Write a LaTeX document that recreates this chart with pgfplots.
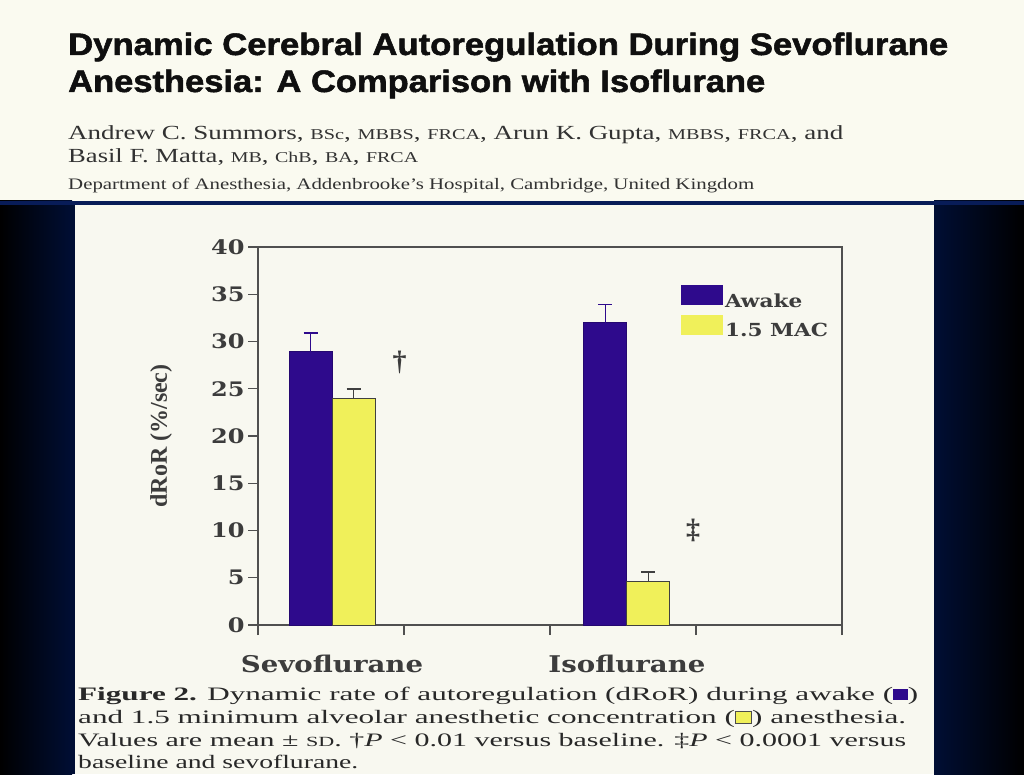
\documentclass[border=0pt]{standalone}
\usepackage{pgfplots}
\pgfplotsset{compat=1.18}
\usepackage{fontspec}
\usepackage{graphicx}
\setmainfont{Liberation Serif}
\newfontfamily\titlefont[BoldFeatures={FakeBold=1.6}]{Liberation Sans}
\newfontfamily\chartfont[FakeStretch=1.2]{DejaVu Serif}
\definecolor{cream}{RGB}{250,250,240}
\definecolor{panel}{RGB}{248,248,240}
\definecolor{navy}{RGB}{0,14,52}
\definecolor{stripe}{RGB}{8,28,88}
\definecolor{awake}{RGB}{46,10,140}
\definecolor{macy}{RGB}{240,240,90}
\definecolor{axisgray}{RGB}{80,80,80}
\definecolor{txt}{RGB}{60,60,60}
\newcommand\smc[1]{{\fontsize{15}{15}\selectfont #1}}
\newcommand\awakebox{\textcolor{awake}{\rule{9pt}{11pt}}}
\newcommand\macbox{{\setlength\fboxsep{0pt}\setlength\fboxrule{0.8pt}\fcolorbox{black!70}{macy}{\rule{0pt}{11pt}\hspace{9pt}}}}

\pgfplotstableread{
x     y     e
0.507 28.9  2.0
2.527 32.0  1.9
}\awaketab
\pgfplotstableread{
x     y     e
0.507 24.0  1.0
2.527 4.6   1.0
}\mactab

\begin{document}
\begin{tikzpicture}[x=1pt,y=1pt]
\useasboundingbox (0,0) rectangle (1024,774);
\fill[cream] (0,573) rectangle (1024,774);
\fill[navy] (0,0) rectangle (1024,573);
\shade[left color=black, right color=navy] (0,0) rectangle (72,573);
\shade[left color=navy, right color=black] (934,0) rectangle (1024,573);
\fill[stripe] (0,569) rectangle (1024,573);
\fill[panel] (75,0) rectangle (934,569);

% header text
\node[anchor=base west, inner sep=0, text={rgb,255:red,15;green,15;blue,15}] at (68,719)
  {\resizebox{880pt}{\height}{\titlefont\bfseries\fontsize{31}{31}\selectfont Dynamic Cerebral Autoregulation During Sevoflurane}};
\node[anchor=base west, inner sep=0, text={rgb,255:red,15;green,15;blue,15}] at (68,682)
  {\resizebox{697pt}{\height}{\titlefont\bfseries\fontsize{31}{31}\selectfont Anesthesia: A Comparison with Isoflurane}};
\node[anchor=base west, inner sep=0, text={rgb,255:red,50;green,50;blue,50}] at (68,634)
  {\resizebox{775pt}{\height}{\fontsize{20}{20}\selectfont Andrew C. Summors, \smc{BSc}, \smc{MBBS}, \smc{FRCA}, Arun K. Gupta, \smc{MBBS}, \smc{FRCA}, and}};
\node[anchor=base west, inner sep=0, text={rgb,255:red,50;green,50;blue,50}] at (68,611)
  {\resizebox{350pt}{\height}{\fontsize{20}{20}\selectfont Basil F. Matta, \smc{MB}, \smc{ChB}, \smc{BA}, \smc{FRCA}}};
\node[anchor=base west, inner sep=0, text={rgb,255:red,50;green,50;blue,50}] at (68,584)
  {\resizebox{686pt}{\height}{\fontsize{16}{16}\selectfont Department of Anesthesia, Addenbrooke's Hospital, Cambridge, United Kingdom}};

\begin{axis}[
  at={(258pt,149pt)}, anchor=south west,
  scale only axis, width=584pt, height=378pt,
  xmin=0, xmax=4, ymin=0, ymax=40,
  xtick={0,1,2,3,4}, xticklabels={},
  ytick={0,5,...,40},
  tick align=outside, major tick length=10pt,
  xtick pos=bottom, ytick pos=left,
  axis line style={draw=axisgray, line width=1.3pt},
  tick style={draw=axisgray, line width=1.3pt},
  /pgf/number format/assume math mode=true,
  yticklabel style={font=\chartfont\bfseries\fontsize{20}{20}\selectfont, text=txt},
  ylabel={dRoR (\%/sec)},
  ylabel style={at={(axis description cs:-0.166,0.5)}, anchor=center, rotate=0,
    font=\bfseries\fontsize{24}{24}\selectfont, text=txt},
  clip=false,
  ybar=0pt, bar width=43pt,
  legend style={at={(0.719,0.905)}, anchor=north west, draw=none, fill=none,
    font=\chartfont\bfseries\fontsize{18}{20}\selectfont, text=txt,
    row sep=4pt, /tikz/every even column/.append style={column sep=3pt}},
  legend cell align=left,
  legend image code/.code={\fill[#1,draw=none] (0pt,-4pt) rectangle (42pt,16pt);},
]
\addplot[fill=awake, draw=awake!80!black, line width=1pt,
  error bars/.cd, y dir=plus, y explicit,
  error bar style={draw=awake, line width=1.6pt},
  error mark options={rotate=90, mark size=7pt, line width=1.6pt, draw=awake}]
  table[x=x, y=y, y error=e] {\awaketab};
\addlegendentry{Awake}
\addplot[fill=macy, draw=black!75, line width=1pt,
  error bars/.cd, y dir=plus, y explicit,
  error bar style={draw=black!75, line width=1.5pt},
  error mark options={rotate=90, mark size=7pt, line width=1.5pt, draw=black!75}]
  table[x=x, y=y, y error=e] {\mactab};
\addlegendentry{1.5 MAC}

\node[font=\bfseries\fontsize{28}{28}\selectfont, text=txt] at (axis cs:0.97,27.8) {†};
\node[font=\bfseries\fontsize{28}{28}\selectfont, text=txt] at (axis cs:2.98,10.0) {‡};
\node[anchor=base, yshift=-47pt, font=\chartfont\bfseries\fontsize{23}{23}\selectfont, text=txt] at (axis cs:0.507,0) {Sevoflurane};
\node[anchor=base, yshift=-47pt, font=\chartfont\bfseries\fontsize{23}{23}\selectfont, text=txt] at (axis cs:2.527,0) {Isoflurane};
\end{axis}

% caption
\node[anchor=base west, inner sep=0, text={rgb,255:red,40;green,40;blue,40}] at (78,74)
  {\resizebox{840pt}{\height}{\fontsize{19}{19}\selectfont \textbf{Figure 2.} Dynamic rate of autoregulation (dRoR) during awake (\awakebox)}};
\node[anchor=base west, inner sep=0, text={rgb,255:red,40;green,40;blue,40}] at (78,51)
  {\resizebox{828pt}{\height}{\fontsize{19}{19}\selectfont and 1.5 minimum alveolar anesthetic concentration (\macbox) anesthesia.}};
\node[anchor=base west, inner sep=0, text={rgb,255:red,40;green,40;blue,40}] at (78,28)
  {\resizebox{828pt}{\height}{\fontsize{19}{19}\selectfont Values are mean ± {\fontsize{14}{14}\selectfont SD}. †\textit{P} < 0.01 versus baseline. ‡\textit{P} < 0.0001 versus}};
\node[anchor=base west, inner sep=0, text={rgb,255:red,40;green,40;blue,40}] at (78,6)
  {\resizebox{280pt}{\height}{\fontsize{19}{19}\selectfont baseline and sevoflurane.}};
\end{tikzpicture}
\end{document}
